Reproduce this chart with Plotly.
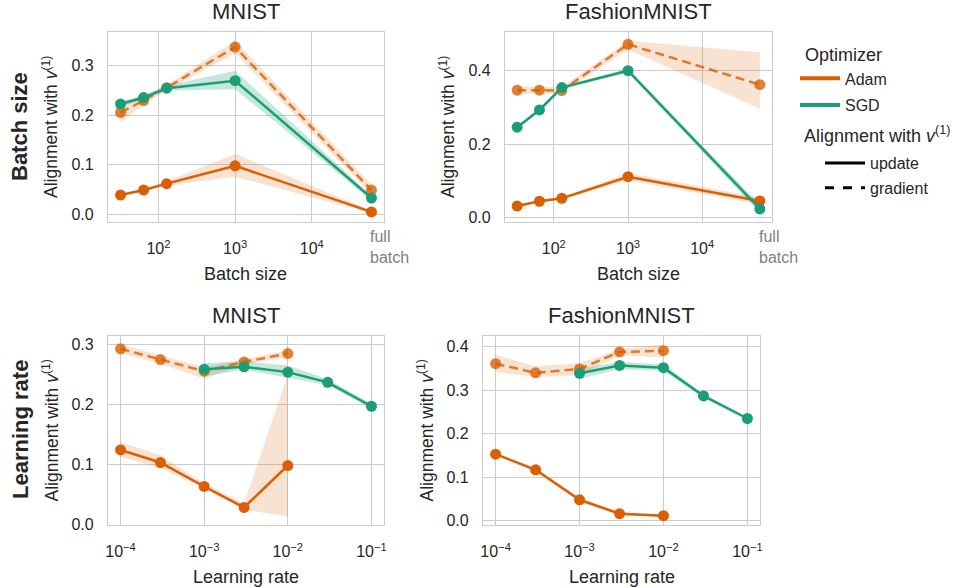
import math
import plotly.graph_objects as go

ORANGE = "#d95f02"
ORANGE_FADED = "rgba(217,95,2,0.8)"
GREEN = "#1b9e77"
ORANGE_BAND = "rgba(217,95,2,0.18)"
GREEN_BAND = "rgba(27,158,119,0.25)"
TEXT = "#262626"
GRID = "#cccccc"
FONT = "Liberation Sans, Arial, sans-serif"

# x values
batch_sizes = [32, 64, 128, 1000, 60000]
lr_adam = [1e-4, 3e-4, 1e-3, 3e-3, 1e-2]
lr_sgd = [1e-3, 3e-3, 1e-2, 3e-2, 1e-1]

# MNIST, batch size sweep
mnist_bs_adam_upd = [0.039, 0.049, 0.062, 0.098, 0.005]
mnist_bs_adam_upd_lo = [0.036, 0.046, 0.058, 0.076, 0.002]
mnist_bs_adam_upd_hi = [0.042, 0.053, 0.067, 0.122, 0.008]
mnist_bs_adam_grad = [0.206, 0.230, 0.256, 0.338, 0.049]
mnist_bs_adam_grad_lo = [0.185, 0.222, 0.250, 0.326, 0.040]
mnist_bs_adam_grad_hi = [0.222, 0.240, 0.262, 0.351, 0.060]
mnist_bs_sgd_upd = [0.223, 0.236, 0.255, 0.270, 0.033]
mnist_bs_sgd_upd_lo = [0.218, 0.232, 0.250, 0.253, 0.028]
mnist_bs_sgd_upd_hi = [0.228, 0.240, 0.260, 0.290, 0.038]

# FashionMNIST, batch size sweep
fashion_bs_adam_upd = [0.031, 0.044, 0.052, 0.111, 0.045]
fashion_bs_adam_upd_lo = [0.028, 0.041, 0.049, 0.101, 0.036]
fashion_bs_adam_upd_hi = [0.034, 0.047, 0.056, 0.121, 0.054]
fashion_bs_adam_grad = [0.347, 0.347, 0.346, 0.472, 0.362]
fashion_bs_adam_grad_lo = [0.336, 0.337, 0.340, 0.458, 0.296]
fashion_bs_adam_grad_hi = [0.358, 0.357, 0.355, 0.482, 0.450]
fashion_bs_sgd_upd = [0.246, 0.293, 0.354, 0.400, 0.023]
fashion_bs_sgd_upd_lo = [0.242, 0.289, 0.350, 0.395, 0.011]
fashion_bs_sgd_upd_hi = [0.250, 0.297, 0.358, 0.405, 0.035]

# MNIST, learning-rate sweep
mnist_lr_adam_upd = [0.124, 0.103, 0.063, 0.028, 0.098]
mnist_lr_adam_upd_lo = [0.112, 0.094, 0.059, 0.024, 0.013]
mnist_lr_adam_upd_hi = [0.137, 0.115, 0.068, 0.035, 0.249]
mnist_lr_adam_grad = [0.293, 0.275, 0.2555, 0.271, 0.285]
mnist_lr_adam_grad_lo = [0.286, 0.268, 0.243, 0.266, 0.280]
mnist_lr_adam_grad_hi = [0.300, 0.282, 0.262, 0.276, 0.290]
mnist_lr_sgd_upd = [0.259, 0.263, 0.254, 0.237, 0.197]
mnist_lr_sgd_upd_lo = [0.247, 0.258, 0.245, 0.232, 0.193]
mnist_lr_sgd_upd_hi = [0.269, 0.272, 0.265, 0.242, 0.201]

# FashionMNIST, learning-rate sweep
fashion_lr_adam_upd = [0.153, 0.117, 0.048, 0.016, 0.0115]
fashion_lr_adam_upd_lo = [0.149, 0.113, 0.044, 0.012, 0.0098]
fashion_lr_adam_upd_hi = [0.157, 0.121, 0.052, 0.020, 0.014]
fashion_lr_adam_grad = [0.361, 0.340, 0.349, 0.388, 0.391]
fashion_lr_adam_grad_lo = [0.342, 0.330, 0.335, 0.380, 0.376]
fashion_lr_adam_grad_hi = [0.381, 0.355, 0.362, 0.395, 0.405]
fashion_lr_sgd_upd = [0.339, 0.357, 0.352, 0.287, 0.235]
fashion_lr_sgd_upd_lo = [0.326, 0.348, 0.345, 0.283, 0.232]
fashion_lr_sgd_upd_hi = [0.350, 0.365, 0.360, 0.291, 0.238]

bs_ticks = [100, 1000, 10000]
bs_ticktext = ["10<sup>2</sup>", "10<sup>3</sup>", "10<sup>4</sup>"]
lr_ticks = [1e-4, 1e-3, 1e-2, 1e-1]
lr_ticktext = ["10<sup>\u22124</sup>", "10<sup>\u22123</sup>", "10<sup>\u22122</sup>", "10<sup>\u22121</sup>"]

ylabel = "Alignment with <i>v</i><sup>(1)</sup>"

panels = [
    dict(title="MNIST", xs_adam=batch_sizes, xs_sgd=batch_sizes,
         series=[(mnist_bs_adam_upd, mnist_bs_adam_upd_lo, mnist_bs_adam_upd_hi),
                 (mnist_bs_adam_grad, mnist_bs_adam_grad_lo, mnist_bs_adam_grad_hi),
                 (mnist_bs_sgd_upd, mnist_bs_sgd_upd_lo, mnist_bs_sgd_upd_hi)],
         yticks=[0.0, 0.1, 0.2, 0.3], kind="bs",
         domx=(108, 384), domy=(32, 222)),
    dict(title="FashionMNIST", xs_adam=batch_sizes, xs_sgd=batch_sizes,
         series=[(fashion_bs_adam_upd, fashion_bs_adam_upd_lo, fashion_bs_adam_upd_hi),
                 (fashion_bs_adam_grad, fashion_bs_adam_grad_lo, fashion_bs_adam_grad_hi),
                 (fashion_bs_sgd_upd, fashion_bs_sgd_upd_lo, fashion_bs_sgd_upd_hi)],
         yticks=[0.0, 0.2, 0.4], kind="bs",
         domx=(505, 772), domy=(32, 222)),
    dict(title="MNIST", xs_adam=lr_adam, xs_sgd=lr_sgd,
         series=[(mnist_lr_adam_upd, mnist_lr_adam_upd_lo, mnist_lr_adam_upd_hi),
                 (mnist_lr_adam_grad, mnist_lr_adam_grad_lo, mnist_lr_adam_grad_hi),
                 (mnist_lr_sgd_upd, mnist_lr_sgd_upd_lo, mnist_lr_sgd_upd_hi)],
         yticks=[0.0, 0.1, 0.2, 0.3], kind="lr",
         domx=(108, 384), domy=(336, 525)),
    dict(title="FashionMNIST", xs_adam=lr_adam, xs_sgd=lr_sgd,
         series=[(fashion_lr_adam_upd, fashion_lr_adam_upd_lo, fashion_lr_adam_upd_hi),
                 (fashion_lr_adam_grad, fashion_lr_adam_grad_lo, fashion_lr_adam_grad_hi),
                 (fashion_lr_sgd_upd, fashion_lr_sgd_upd_lo, fashion_lr_sgd_upd_hi)],
         yticks=[0.0, 0.1, 0.2, 0.3, 0.4], kind="lr",
         domx=(483, 760), domy=(336, 525)),
]

W, H = 957, 588
fig = go.Figure()
annotations = []
shapes = []


def band(x, lo, hi, color, xa, ya):
    return go.Scatter(x=list(x) + list(x)[::-1], y=list(hi) + list(lo)[::-1],
                      fill="toself", fillcolor=color, line=dict(width=0),
                      mode="lines", hoverinfo="skip", showlegend=False,
                      xaxis=xa, yaxis=ya)


def line(x, y, color, dash, xa, ya):
    return go.Scatter(x=x, y=y, mode="lines+markers",
                      line=dict(color=color, width=2.5, dash=dash),
                      marker=dict(color=color, size=11, line=dict(width=0)),
                      showlegend=False, xaxis=xa, yaxis=ya)


for i, p in enumerate(panels):
    n = "" if i == 0 else str(i + 1)
    xa, ya = "x" + n, "y" + n
    (au, aul, auh), (ag, agl, agh), (su, sul, suh) = p["series"]

    fig.add_trace(band(p["xs_adam"], aul, auh, ORANGE_BAND, xa, ya))
    fig.add_trace(band(p["xs_adam"], agl, agh, ORANGE_BAND, xa, ya))
    fig.add_trace(band(p["xs_sgd"], sul, suh, GREEN_BAND, xa, ya))
    fig.add_trace(line(p["xs_adam"], au, ORANGE, "solid", xa, ya))
    fig.add_trace(line(p["xs_adam"], ag, ORANGE_FADED, "9px,5px", xa, ya))
    fig.add_trace(line(p["xs_sgd"], su, GREEN, "solid", xa, ya))

    # autoscale with 5% padding on both axes (log-space for x)
    xs = [math.log10(v) for v in list(p["xs_adam"]) + list(p["xs_sgd"])]
    xmin, xmax = min(xs), max(xs)
    xpad = 0.05 * (xmax - xmin)
    ys = list(aul) + list(auh) + list(agl) + list(agh) + list(sul) + list(suh)
    ymin, ymax = min(ys), max(ys)
    ypad = 0.05 * (ymax - ymin)

    if p["kind"] == "bs":
        tv, tt, xtitle = bs_ticks, bs_ticktext, "Batch size"
    else:
        tv, tt, xtitle = lr_ticks, lr_ticktext, "Learning rate"

    axis_common = dict(showline=True, mirror=True, linecolor=GRID, linewidth=1.25,
                       showgrid=True, gridcolor=GRID, gridwidth=1, zeroline=False,
                       ticks="", tickfont=dict(size=16, color=TEXT, family=FONT))
    fig.layout["xaxis" + n] = dict(
        axis_common, type="log", domain=[p["domx"][0] / W, p["domx"][1] / W],
        range=[xmin - xpad, xmax + xpad], tickvals=tv, ticktext=tt,
        anchor=ya, ticklabelstandoff=12)
    fig.layout["yaxis" + n] = dict(
        axis_common, domain=[1 - p["domy"][1] / H, 1 - p["domy"][0] / H],
        range=[ymin - ypad, ymax + ypad], tickvals=p["yticks"],
        ticktext=["%.1f" % v for v in p["yticks"]], anchor=xa,
        ticklabelstandoff=10)

    xd, yd = xa + " domain", ya + " domain"
    annotations.append(dict(text=p["title"], xref=xd, yref=yd, x=0.5, y=1,
                            yanchor="bottom", yshift=6, showarrow=False,
                            font=dict(size=22, color=TEXT, family=FONT)))
    annotations.append(dict(text=xtitle, xref=xd, yref=yd, x=0.5, y=0,
                            yanchor="middle", yshift=-52, showarrow=False,
                            font=dict(size=18, color=TEXT, family=FONT)))
    annotations.append(dict(text=ylabel, xref=xd, yref=yd, x=0, y=0.5,
                            xanchor="center", yanchor="middle",
                            xshift=-58, textangle=-90, showarrow=False,
                            font=dict(size=17.5, color=TEXT, family=FONT)))

    if p["kind"] == "bs":
        full = math.log10(batch_sizes[-1])
        shapes.append(dict(type="line", xref=xa, yref=yd, x0=full, x1=full, y0=0, y1=1,
                           line=dict(color="#999999", width=2, dash="dot")))
        annotations.append(dict(text="full<br>batch", xref=xa, yref=yd, x=full, y=0,
                                xanchor="left", yanchor="middle", align="left",
                                xshift=-3, yshift=-25, showarrow=False,
                                font=dict(size=16, color="#808080", family=FONT)))

# Row labels
for label, yc in [("Batch size", 127), ("Learning rate", 430)]:
    annotations.append(dict(text="<b>%s</b>" % label, xref="paper", yref="paper",
                            x=20 / W, y=1 - yc / H, xanchor="center", yanchor="middle",
                            textangle=-90, showarrow=False,
                            font=dict(size=22, color=TEXT, family=FONT)))

# Heading of the second legend block
annotations.append(dict(text=ylabel, xref="paper", yref="paper", x=802 / W, y=1 - 134 / H,
                        xanchor="left", yanchor="middle", showarrow=False,
                        font=dict(size=18, color=TEXT, family=FONT)))

# Legend entries
for name, color in [("Adam", ORANGE), ("SGD", GREEN)]:
    fig.add_trace(go.Scatter(x=[None], y=[None], mode="lines", name=name,
                             line=dict(color=color, width=4), legend="legend",
                             legendgroup=name))
for name, dash in [("update", "solid"), ("gradient", "dash")]:
    fig.add_trace(go.Scatter(x=[None], y=[None], mode="lines", name=name,
                             line=dict(color="black", width=3, dash=dash),
                             legend="legend2", legendgroup=name))

fig.update_layout(
    width=W, height=H, margin=dict(l=0, r=0, t=0, b=0, autoexpand=False),
    paper_bgcolor="white", plot_bgcolor="white",
    font=dict(family=FONT, color=TEXT),
    annotations=annotations, shapes=shapes,
    legend=dict(x=795 / W, y=1 - 38 / H, xanchor="left", yanchor="top",
                title=dict(text="Optimizer", side="top center",
                           font=dict(size=18, color=TEXT, family=FONT)),
                font=dict(size=16, color=TEXT, family=FONT),
                tracegroupgap=3, itemwidth=40, bgcolor="rgba(0,0,0,0)"),
    legend2=dict(x=820 / W, y=1 - 146 / H, xanchor="left", yanchor="top",
                 font=dict(size=16, color=TEXT, family=FONT),
                 tracegroupgap=1, itemwidth=40, bgcolor="rgba(0,0,0,0)"),
)

fig.write_html("out.html")
